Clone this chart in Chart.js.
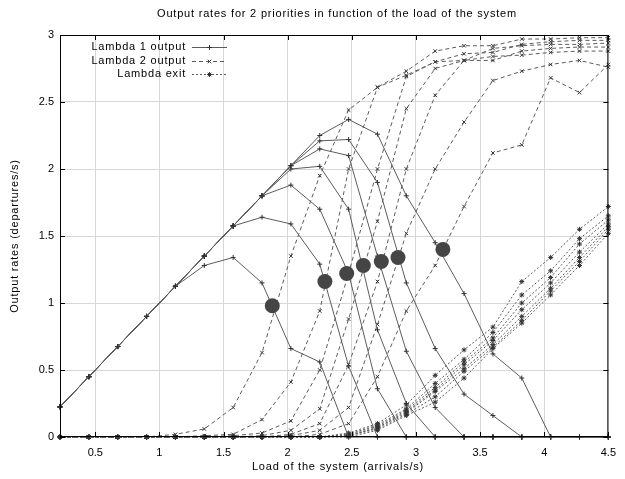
<!DOCTYPE html>
<html><head><meta charset="utf-8">
<script src="https://cdn.jsdelivr.net/npm/chart.js@4.4.0/dist/chart.umd.min.js"></script>
<style>html,body{margin:0;padding:0;background:#fff;}#wrap{width:625px;height:479px;}</style>
</head><body><div id="wrap"><canvas id="c" width="625" height="479"></canvas></div>
<script>
const TITLE = 'Output rates for 2 priorities in function of the load of the system';
const X_TITLE = 'Load of the system (arrivals/s)';
const Y_TITLE = 'Output rates (departures/s)';
const LEGEND_LABELS = ['Lambda 1 output', 'Lambda 2 output', 'Lambda exit'];

const LOAD = [0.225,0.45,0.675,0.9,1.125,1.35,1.575,1.8,2.025,2.25,2.475,2.7,2.925,3.15,3.375,3.6,3.825,4.05,4.275,4.5];
const X_TICKS = [0.5,1,1.5,2,2.5,3,3.5,4,4.5];
const Y_TICKS = [0,0.5,1,1.5,2,2.5,3];

const LAMBDA1_OUTPUT = [
  [0.225,0.45,0.675,0.9,1.125,1.28,1.34,1.15,0.66,0.56,0,0,0,0,0,0,0,0,0,0],
  [0.225,0.45,0.675,0.9,1.125,1.35,1.575,1.64,1.59,1.29,0.53,0,0,0,0,0,0,0,0,0],
  [0.225,0.45,0.675,0.9,1.125,1.35,1.575,1.8,1.88,1.70,1.22,0.36,0,0,0,0,0,0,0,0],
  [0.225,0.45,0.675,0.9,1.125,1.35,1.575,1.8,2.0,2.02,1.70,0.80,0.25,0,0,0,0,0,0,0],
  [0.225,0.45,0.675,0.9,1.125,1.35,1.575,1.8,2.025,2.15,2.10,1.35,0.64,0.22,0,0,0,0,0,0],
  [0.225,0.45,0.675,0.9,1.125,1.35,1.575,1.8,2.025,2.21,2.22,1.90,1.15,0.66,0.32,0.16,0,0,0,0],
  [0.225,0.45,0.675,0.9,1.125,1.35,1.575,1.8,2.025,2.25,2.37,2.26,1.80,1.45,1.07,0.62,0.44,0,0,0]
];
const LAMBDA2_OUTPUT = [
  [0,0,0,0,0.02,0.06,0.22,0.63,1.35,1.95,2.44,2.61,2.73,2.88,2.92,2.92,2.97,2.97,2.98,2.98],
  [0,0,0,0,0,0.01,0.02,0.13,0.41,0.94,2.0,2.61,2.70,2.80,2.86,2.87,2.93,2.95,2.96,2.96],
  [0,0,0,0,0,0,0.01,0.03,0.12,0.50,1.22,2.0,2.69,2.80,2.81,2.90,2.92,2.93,2.93,2.94],
  [0,0,0,0,0,0,0,0.01,0.05,0.21,0.88,1.61,2.45,2.75,2.81,2.81,2.88,2.90,2.91,2.91],
  [0,0,0,0,0,0,0,0,0.02,0.10,0.54,1.16,2.0,2.55,2.81,2.84,2.85,2.87,2.88,2.88],
  [0,0,0,0,0,0,0,0,0.01,0.05,0.22,0.84,1.52,2.0,2.35,2.66,2.73,2.78,2.81,2.76],
  [0,0,0,0,0,0,0,0,0,0.02,0.10,0.45,0.94,1.28,1.72,2.12,2.18,2.68,2.57,2.78]
];
const LAMBDA_EXIT = [
  [0,0,0,0,0,0,0,0,0,0,0.03,0.10,0.24,0.46,0.65,0.82,1.16,1.34,1.55,1.72],
  [0,0,0,0,0,0,0,0,0,0,0.02,0.09,0.21,0.40,0.58,0.78,1.06,1.24,1.48,1.65],
  [0,0,0,0,0,0,0,0,0,0,0.02,0.08,0.20,0.37,0.56,0.74,1.00,1.19,1.44,1.62],
  [0,0,0,0,0,0,0,0,0,0,0.01,0.07,0.19,0.35,0.54,0.72,0.95,1.15,1.38,1.59],
  [0,0,0,0,0,0,0,0,0,0,0.01,0.07,0.18,0.34,0.51,0.69,0.90,1.11,1.34,1.57],
  [0,0,0,0,0,0,0,0,0,0,0.01,0.06,0.17,0.30,0.49,0.67,0.87,1.09,1.31,1.55],
  [0,0,0,0,0,0,0,0,0,0,0,0.05,0.16,0.26,0.44,0.66,0.85,1.06,1.28,1.52]
];
const MARK_X = [1.88,2.29,2.46,2.59,2.73,2.86,3.21];
const MARK_Y = [0.98,1.16,1.22,1.28,1.31,1.34,1.40];

const FONT = "'Liberation Sans', Arial, sans-serif";
const LINE_COLOR = '#5c5c5c';
const PT_COLOR = '#333333';
const STYLES = [
  {dash: [], point: 'cross'},
  {dash: [4, 3], point: 'crossRot'},
  {dash: [2, 2], point: 'star'}
];

function series(arr, st) {
  return {
    data: LOAD.map((x, i) => ({x: x, y: arr[i]})),
    showLine: true,
    borderColor: LINE_COLOR,
    borderWidth: 1,
    borderDash: st.dash,
    pointStyle: st.point,
    pointRadius: 2.5,
    pointBorderColor: PT_COLOR,
    pointBackgroundColor: PT_COLOR,
    pointBorderWidth: 1,
    fill: false,
    tension: 0,
    clip: 8,
    order: 1
  };
}

const datasets = [];
LAMBDA1_OUTPUT.forEach(a => datasets.push(series(a, STYLES[0])));
LAMBDA2_OUTPUT.forEach(a => datasets.push(series(a, STYLES[1])));
LAMBDA_EXIT.forEach(a => datasets.push(series(a, STYLES[2])));
datasets.push({
  data: MARK_X.map((x, i) => ({x: x, y: MARK_Y[i]})),
  showLine: false,
  pointStyle: 'circle',
  pointRadius: 7.5,
  pointBackgroundColor: '#454545',
  pointBorderColor: '#454545',
  pointBorderWidth: 0,
  order: 0
});

function drawMarker(ctx, style, x, y, r) {
  ctx.beginPath();
  if (style === 'cross' || style === 'star') {
    ctx.moveTo(x - r, y); ctx.lineTo(x + r, y);
    ctx.moveTo(x, y - r); ctx.lineTo(x, y + r);
  }
  if (style === 'crossRot' || style === 'star') {
    const d = r * 0.7071;
    ctx.moveTo(x - d, y - d); ctx.lineTo(x + d, y + d);
    ctx.moveTo(x - d, y + d); ctx.lineTo(x + d, y - d);
  }
  ctx.stroke();
}

const decor = {
  id: 'decor',
  afterDraw(chart) {
    const ctx = chart.ctx;
    const a = chart.chartArea;
    const xs = chart.scales.x, ys = chart.scales.y;
    ctx.save();
    ctx.strokeStyle = '#000';
    ctx.lineWidth = 1;
    ctx.setLineDash([]);
    ctx.strokeRect(a.left + 0.5, a.top + 0.5, a.right - a.left - 1, a.bottom - a.top - 1);
    ctx.beginPath();
    X_TICKS.forEach(v => {
      const px = Math.round(xs.getPixelForValue(v)) + 0.5;
      ctx.moveTo(px, a.bottom); ctx.lineTo(px, a.bottom - 5);
      ctx.moveTo(px, a.top); ctx.lineTo(px, a.top + 5);
    });
    Y_TICKS.forEach(v => {
      const py = Math.round(ys.getPixelForValue(v)) + 0.5;
      ctx.moveTo(a.left, py); ctx.lineTo(a.left + 5, py);
      ctx.moveTo(a.right, py); ctx.lineTo(a.right - 5, py);
    });
    ctx.stroke();
    ctx.fillStyle = '#000';
    ctx.font = '11px ' + FONT;
    ctx.letterSpacing = '0.8px';
    ctx.textAlign = 'center';
    ctx.textBaseline = 'middle';
    ctx.fillText(TITLE, 337, 14);
    ctx.fillText(X_TITLE, 338, 467);
    ctx.save();
    ctx.translate(15, 236);
    ctx.rotate(-Math.PI / 2);
    ctx.fillText(Y_TITLE, 0, 0);
    ctx.restore();
    const rows = [47, 61, 74];
    LEGEND_LABELS.forEach((t, i) => {
      const y = rows[i];
      ctx.textAlign = 'right';
      ctx.fillStyle = '#000';
      ctx.fillText(t, 186, y);
      ctx.strokeStyle = LINE_COLOR;
      ctx.lineWidth = 1;
      ctx.setLineDash(STYLES[i].dash);
      ctx.beginPath();
      ctx.moveTo(192, y + 0.5); ctx.lineTo(227, y + 0.5);
      ctx.stroke();
      ctx.setLineDash([]);
      ctx.strokeStyle = PT_COLOR;
      drawMarker(ctx, STYLES[i].point, 209.5, y + 0.5, 2.5);
    });
    ctx.restore();
  }
};

new Chart(document.getElementById('c'), {
  type: 'scatter',
  data: {datasets: datasets},
  options: {
    responsive: false,
    animation: false,
    devicePixelRatio: 1,
    layout: {padding: {top: 35, right: 8, left: 0, bottom: 0}},
    plugins: {legend: {display: false}, tooltip: {enabled: false}, title: {display: false}},
    scales: {
      x: {
        type: 'linear', min: 0.225, max: 4.5,
        afterBuildTicks: s => { s.ticks = X_TICKS.map(v => ({value: v})); },
        afterFit: s => { s.height = 42; },
        ticks: {color: '#000', font: {family: FONT, size: 11}, padding: 9, maxRotation: 0, autoSkip: false, callback: v => String(v)},
        grid: {color: '#d6d6d6', drawTicks: false},
        border: {display: false}
      },
      y: {
        type: 'linear', min: 0, max: 3,
        afterBuildTicks: s => { s.ticks = Y_TICKS.map(v => ({value: v})); },
        afterFit: s => { s.width = 60; },
        ticks: {color: '#000', font: {family: FONT, size: 11}, padding: 6, autoSkip: false, callback: v => String(v)},
        grid: {color: '#d6d6d6', drawTicks: false},
        border: {display: false}
      }
    }
  },
  plugins: [decor]
});
</script></body></html>
